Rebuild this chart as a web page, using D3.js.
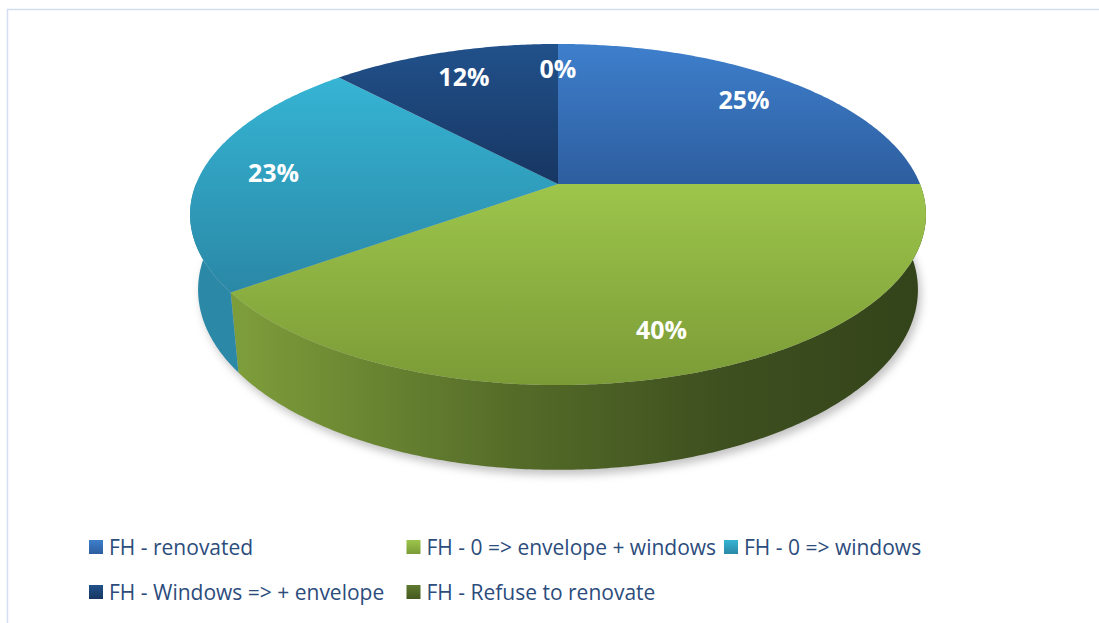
<!DOCTYPE html>
<html>
<head>
<meta charset="utf-8">
<script src="https://cdn.jsdelivr.net/npm/d3@7"></script>
<style>
  html, body { margin: 0; padding: 0; background: #fff; }
  svg { display: block; }
</style>
</head>
<body>
<svg id="chart" width="1099" height="623"></svg>
<script>
// ---- data ----
const categories = [
  "FH - renovated",
  "FH - 0 => envelope + windows",
  "FH - 0 => windows",
  "FH - Windows => + envelope",
  "FH - Refuse to renovate"
];
const shares = [25, 40, 23, 12, 0];
const shareLabels = shares.map(v => v + "%");

// ---- palette (top-face light/dark, wall light/dark) ----
const topLight = ["#3e7fcc", "#9dc54b", "#36b4d4", "#21518b", "#5f7a2f"];
const topDark  = ["#2d5e9f", "#7b9b37", "#2a88a6", "#173662", "#44591f"];
const wallLight = ["#2f62a3", "#7d9c3a", "#2b89a7", "#1b3f6e", "#4d6424"];
const wallDark  = ["#234b7e", "#33431a", "#1f6e8b", "#132c50", "#2f3d17"];

const svg = d3.select("#chart");
const W = 1099, H = 623;

// ---- 3D view of the pie: a disc seen from above with perspective ----
const view = { cx: 558, cy: 184, f: 1801, R: 0.201, h: 0.0473, sinT: 0.456 };
view.cosT = Math.sqrt(1 - view.sinT * view.sinT);

// angle measured clockwise from 12 o'clock (same as d3.pie)
function project(theta, rFrac, Y) {
  const r = view.R * rFrac;
  const X = r * Math.sin(theta);
  const Z = -r * Math.cos(theta);
  const yc = Z * view.sinT - Y * view.cosT;
  const d = 1 - (Z * view.cosT + Y * view.sinT);
  return [view.cx + view.f * X / d, view.cy + view.f * yc / d];
}
function rim(a0, a1, Y) {
  const n = Math.max(2, Math.ceil(Math.abs(a1 - a0) / 0.01));
  return d3.range(n + 1).map(i => project(a0 + (a1 - a0) * i / n, 1, Y));
}
const line = d3.line();

const pie = d3.pie().sort(null).value(d => d).startAngle(0).endAngle(2 * Math.PI);
const arcs = pie(shares);

// ---- gradients ----
const defs = svg.append("defs");
arcs.forEach((a, i) => {
  const g = defs.append("linearGradient").attr("id", "top" + i)
    .attr("x1", 0).attr("y1", 0).attr("x2", 0).attr("y2", 1);
  g.append("stop").attr("offset", "0%").attr("stop-color", topLight[i]);
  g.append("stop").attr("offset", "100%").attr("stop-color", topDark[i]);

  const w = defs.append("linearGradient").attr("id", "wall" + i)
    .attr("gradientUnits", "userSpaceOnUse")
    .attr("x1", project(Math.PI * 1.28, 1, 0)[0]).attr("y1", 0)
    .attr("x2", project(Math.PI * 0.56, 1, 0)[0]).attr("y2", 0);
  w.append("stop").attr("offset", "0%").attr("stop-color", wallLight[i]);
  w.append("stop").attr("offset", "40%").attr("stop-color", d3.interpolateRgb(wallLight[i], wallDark[i])(0.55));
  w.append("stop").attr("offset", "70%").attr("stop-color", d3.interpolateRgb(wallLight[i], wallDark[i])(0.85));
  w.append("stop").attr("offset", "100%").attr("stop-color", wallDark[i]);

  const s = defs.append("linearGradient").attr("id", "sw" + i)
    .attr("x1", 0).attr("y1", 0).attr("x2", 0).attr("y2", 1);
  s.append("stop").attr("offset", "0%").attr("stop-color", topLight[i]);
  s.append("stop").attr("offset", "100%").attr("stop-color", topDark[i]);
});
const blur = defs.append("filter").attr("id", "soft")
  .attr("x", "-10%").attr("y", "-10%").attr("width", "120%").attr("height", "130%");
blur.append("feGaussianBlur").attr("stdDeviation", 4);

// ---- chart frame ----
svg.append("rect")
  .attr("x", 7.5).attr("y", 9.5).attr("width", W + 20).attr("height", H + 20)
  .attr("fill", "none").attr("stroke", "#d3deee").attr("stroke-width", 1.5);

// ---- soft shadow under the disc ----
const base = rim(0, 2 * Math.PI, -view.h);
svg.append("path")
  .attr("d", line(base) + "Z")
  .attr("transform", "translate(3,5)")
  .attr("fill", "#9a9a9a").attr("opacity", 0.6)
  .attr("filter", "url(#soft)");

// ---- outer walls (front half) ----
const front0 = Math.PI / 2, front1 = Math.PI * 1.5;
svg.append("g").selectAll("path")
  .data(arcs.filter(a => Math.min(a.endAngle, front1) > Math.max(a.startAngle, front0)))
  .join("path")
  .attr("d", a => {
    const b0 = Math.max(a.startAngle, front0), b1 = Math.min(a.endAngle, front1);
    const pts = rim(b0, b1, 0).concat(rim(b1, b0, -view.h));
    return line(pts) + "Z";
  })
  .attr("fill", a => "url(#wall" + a.index + ")");

// ---- top faces ----
const apex = project(0, 0, 0);
svg.append("g").selectAll("path")
  .data(arcs.filter(a => a.endAngle > a.startAngle))
  .join("path")
  .attr("d", a => line([apex].concat(rim(a.startAngle, a.endAngle, 0))) + "Z")
  .attr("fill", a => "url(#top" + a.index + ")");

// ---- value labels ----
svg.append("g").selectAll("text")
  .data(arcs)
  .join("text")
  .attr("x", a => project((a.startAngle + a.endAngle) / 2, 0.8, 0)[0])
  .attr("y", a => project((a.startAngle + a.endAngle) / 2, 0.8, 0)[1])
  .attr("text-anchor", "middle")
  .attr("dominant-baseline", "central")
  .attr("font-family", "'Open Sans', 'DejaVu Sans', sans-serif")
  .attr("font-weight", 700)
  .attr("font-size", 25)
  .attr("fill", "#ffffff")
  .text((a, i) => shareLabels[i]);

// ---- legend ----
const legendX = 89, legendY = 547, colW = 317.5, rowH = 45, sw = 14;
const legend = svg.append("g").selectAll("g")
  .data(categories)
  .join("g")
  .attr("transform", (d, i) => `translate(${legendX + (i % 3) * colW},${legendY + Math.floor(i / 3) * rowH})`);
legend.append("rect")
  .attr("x", 0).attr("y", -sw / 2).attr("width", sw).attr("height", sw)
  .attr("fill", (d, i) => "url(#sw" + i + ")");
legend.append("text")
  .attr("x", 20).attr("y", 0)
  .attr("dominant-baseline", "central")
  .attr("font-family", "'Open Sans', 'DejaVu Sans', sans-serif")
  .attr("font-size", 21)
  .attr("fill", "#2c4c7c")
  .text(d => d);
</script>
</body>
</html>
